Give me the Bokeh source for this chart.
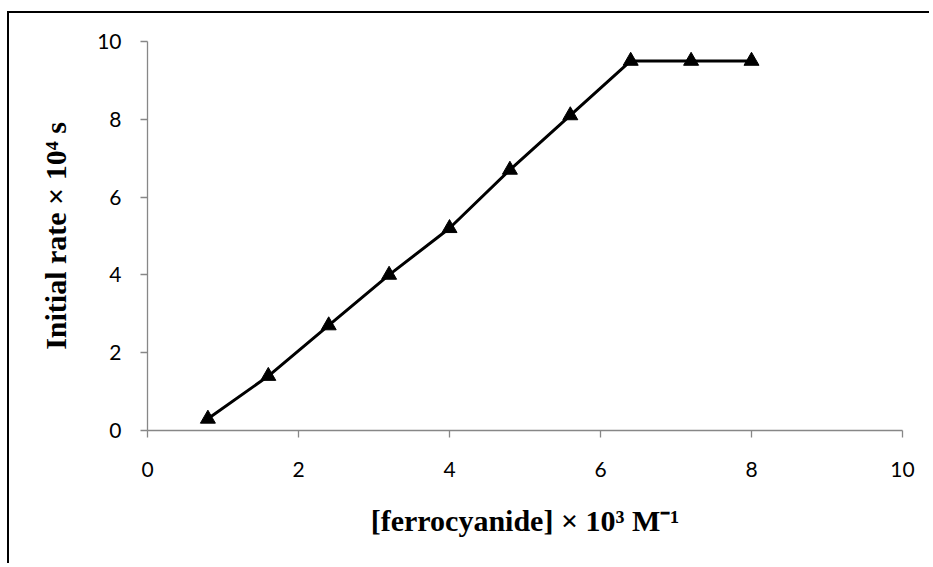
from bokeh.plotting import figure
from bokeh.models import Range1d, FixedTicker
from bokeh.embed import file_html
from bokeh.resources import INLINE

# data
ferrocyanide = [0.8, 1.6, 2.4, 3.2, 4.0, 4.8, 5.6, 6.4, 7.2, 8.0]
initial_rate = [0.3, 1.4, 2.7, 4.0, 5.2, 6.7, 8.1, 9.5, 9.5, 9.5]
x_ticks = [0, 2, 4, 6, 8, 10]
y_ticks = [0, 2, 4, 6, 8, 10]
x_label = "[ferrocyanide] \u00d7 10\u00b3 M\u207b\u00b9"
y_label = "Initial rate \u00d7 10\u2074 s"

p = figure(width=922, height=552, output_backend="svg", toolbar_location=None,
           x_range=Range1d(0, 10), y_range=Range1d(0, 10),
           min_border_left=138, min_border_right=29, min_border_top=28, min_border_bottom=135,
           margin=(11, 0, 0, 7))
p.styles = {"border-left": "2px solid black", "border-top": "2px solid black"}

p.line(ferrocyanide, initial_rate, line_color="black", line_width=3)
p.scatter(ferrocyanide, initial_rate, marker="triangle", size=15, fill_color="black", line_color="black")

p.grid.visible = False
p.outline_line_color = None
p.background_fill_color = "white"
p.border_fill_color = "white"

for ax, ticks in ((p.xaxis, x_ticks), (p.yaxis, y_ticks)):
    ax.ticker = FixedTicker(ticks=ticks)
    ax.minor_tick_line_color = None
    ax.major_tick_in = 0
    ax.major_tick_out = 7
    ax.axis_line_color = "#878787"
    ax.major_tick_line_color = "#878787"
    ax.axis_line_width = 1.3
    ax.major_tick_line_width = 1.3
    ax.major_label_text_font = "Lato"
    ax.major_label_text_font_size = "21px"
    ax.major_label_text_color = "black"
    ax.axis_label_text_font = "Liberation Serif"
    ax.axis_label_text_font_style = "bold"
    ax.axis_label_text_font_size = "30px"
    ax.axis_label_text_color = "black"

p.xaxis.axis_label = x_label
p.yaxis.axis_label = y_label
p.xaxis.major_label_standoff = 24
p.yaxis.major_label_standoff = 19
p.xaxis.axis_label_standoff = 24
p.yaxis.axis_label_standoff = 22

open("out.html", "w").write(file_html(p, INLINE))
